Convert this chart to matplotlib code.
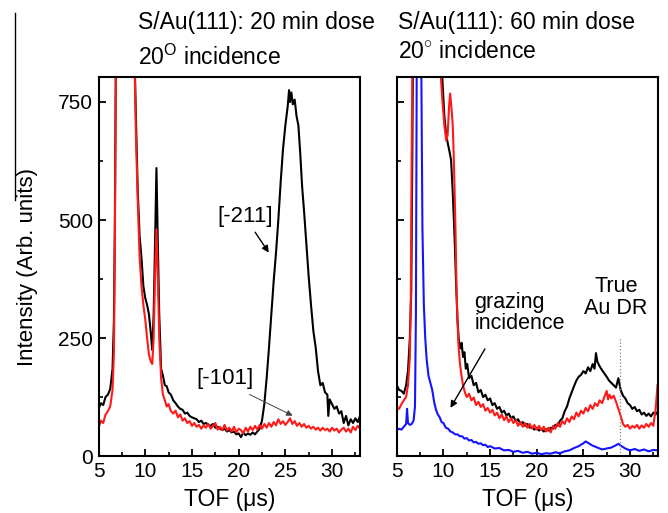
import matplotlib
matplotlib.use("Agg")
import matplotlib.pyplot as plt
from matplotlib.ticker import MultipleLocator
from matplotlib.lines import Line2D

plt.rcParams['font.family'] = ['Liberation Sans', 'DejaVu Sans']
plt.rcParams['mathtext.fontset'] = 'custom'
plt.rcParams['mathtext.rm'] = 'Liberation Sans'
plt.rcParams['mathtext.it'] = 'Liberation Sans:italic'
plt.rcParams['font.size'] = 15

# ---------------- data: left panel (20 min dose) ----------------
left_black_x = [5.0, 5.25, 5.5, 5.75, 6.0, 6.25, 6.5, 6.65, 6.75, 6.85, 7.0, 7.8, 8.5, 8.8,
                9.0, 9.2, 9.4, 9.6, 9.8, 10.0, 10.2, 10.4, 10.6, 10.75, 10.9, 11.05, 11.2, 11.35,
                11.5, 11.7, 11.9, 12.1, 12.3, 12.5, 12.75, 13.0, 13.25, 13.5, 13.75, 14.0, 14.25,
                14.5, 14.75, 15.0, 15.25, 15.5, 15.75, 16.0, 16.25, 16.5, 16.75, 17.0, 17.25, 17.5,
                17.75, 18.0, 18.25, 18.5, 18.75, 19.0, 19.25, 19.5, 19.75, 20.0, 20.25, 20.5, 20.75,
                21.0, 21.25, 21.5, 21.75, 22.0, 22.25, 22.5, 22.75, 23.0, 23.25, 23.5, 23.75, 24.0,
                24.25, 24.5, 24.75, 25.0, 25.25, 25.4, 25.5, 25.65, 25.8, 26.0, 26.2, 26.4, 26.6,
                26.8, 27.0, 27.25, 27.5, 27.75, 28.0, 28.25, 28.5, 28.75, 29.0, 29.25, 29.5, 29.6,
                29.75, 30.0, 30.25, 30.5, 30.75, 31.0, 31.25, 31.5, 31.75, 32.0, 32.25, 32.5, 32.75, 33.0]
left_black_y = [100, 112, 108, 125, 130, 142, 185, 290, 500, 820, 1800, 3000, 1800, 900,
                720, 560, 465, 420, 360, 335, 320, 300, 260, 225, 300, 450, 610, 450,
                300, 185, 170, 150, 148, 135, 130, 118, 112, 105, 100, 98, 90,
                92, 85, 82, 80, 78, 72, 75, 68, 70, 66, 64, 68, 60,
                62, 58, 55, 58, 52, 55, 50, 52, 46, 48, 40, 50, 44,
                48, 45, 50, 46, 52, 58, 75, 110, 165, 230, 300, 370, 430,
                500, 580, 650, 700, 740, 775, 750, 770, 745, 755, 720, 700, 640,
                570, 520, 450, 380, 320, 265, 230, 180, 150, 155, 135, 130, 85,
                120, 110, 100, 105, 90, 95, 70, 85, 65, 78, 70, 80, 72, 85]

left_red_x = [5.0, 5.25, 5.5, 5.75, 6.0, 6.25, 6.5, 6.65, 6.75, 6.85, 7.0, 7.8, 8.5, 8.8,
              9.0, 9.2, 9.4, 9.6, 9.8, 10.0, 10.2, 10.4, 10.6, 10.75, 10.9, 11.05, 11.2, 11.35,
              11.5, 11.7, 11.9, 12.1, 12.3, 12.5, 12.75, 13.0, 13.25, 13.5, 13.75, 14.0, 14.25,
              14.5, 14.75, 15.0, 15.25, 15.5, 15.75, 16.0, 16.25, 16.5, 16.75, 17.0, 17.25, 17.5,
              17.75, 18.0, 18.25, 18.5, 18.75, 19.0, 19.25, 19.5, 19.75, 20.0, 20.25, 20.5, 20.75,
              21.0, 21.25, 21.5, 21.75, 22.0, 22.25, 22.5, 22.75, 23.0, 23.25, 23.5, 23.75, 24.0,
              24.25, 24.5, 24.75, 25.0, 25.25, 25.5, 25.75, 26.0, 26.25, 26.5, 26.75, 27.0, 27.25,
              27.5, 27.75, 28.0, 28.25, 28.5, 28.75, 29.0, 29.25, 29.5, 29.75, 30.0, 30.25, 30.5,
              30.75, 31.0, 31.25, 31.5, 31.75, 32.0, 32.25, 32.5, 32.75, 33.0]
left_red_y = [60, 75, 70, 88, 95, 105, 140, 220, 450, 800, 1800, 3000, 1800, 900,
              680, 540, 420, 360, 320, 290, 250, 215, 200, 195, 250, 380, 480, 380,
              250, 165, 130, 118, 105, 110, 95, 90, 96, 82, 88, 75, 80,
              70, 74, 64, 70, 62, 66, 58, 65, 60, 68, 58, 64, 70,
              56, 62, 55, 66, 54, 60, 52, 62, 50, 58, 55, 48, 60,
              52, 62, 55, 64, 56, 66, 58, 68, 60, 70, 62, 72, 65,
              78, 68, 74, 66, 72, 80, 68, 74, 64, 70, 62, 68, 60,
              64, 58, 62, 56, 60, 54, 60, 55, 58, 52, 60, 54, 58,
              50, 56, 60, 52, 58, 50, 62, 55, 64, 58]

# ---------------- data: right panel (60 min dose) ----------------
right_black_x = [5.0, 5.25, 5.5, 5.75, 6.0, 6.2, 6.4, 6.55, 6.65, 6.75, 7.0, 8.5, 9.5, 9.88,
                 10.1, 10.3, 10.46, 10.65, 10.82, 11.0, 11.2, 11.35, 11.5, 11.65, 11.8, 11.95,
                 12.1, 12.25, 12.4, 12.55, 12.75, 13.0, 13.25, 13.5, 13.75, 14.0, 14.25, 14.5,
                 14.75, 15.0, 15.25, 15.5, 15.75, 16.0, 16.25, 16.5, 16.75, 17.0, 17.25, 17.5,
                 17.75, 18.0, 18.25, 18.5, 18.75, 19.0, 19.25, 19.5, 19.75, 20.0, 20.25, 20.5,
                 20.75, 21.0, 21.25, 21.5, 21.75, 22.0, 22.25, 22.5, 22.75, 23.0, 23.25, 23.5,
                 23.75, 24.0, 24.25, 24.5, 24.75, 25.0, 25.25, 25.5, 25.75, 26.0, 26.2, 26.35,
                 26.5, 26.75, 27.0, 27.25, 27.5, 27.75, 28.0, 28.25, 28.5, 28.75, 28.9, 29.0,
                 29.25, 29.5, 29.75, 30.0, 30.25, 30.5, 30.75, 31.0, 31.25, 31.5, 31.75, 32.0,
                 32.25, 32.5, 32.75, 33.0]
right_black_y = [150, 140, 138, 132, 150, 180, 250, 350, 600, 900, 2000, 3000, 1200, 800,
                 720, 680, 663, 645, 627, 557, 460, 370, 290, 245, 228, 240,
                 210, 220, 185, 195, 165, 170, 150, 155, 135, 140, 125, 130,
                 118, 122, 108, 112, 100, 104, 92, 96, 86, 90, 80, 84,
                 74, 78, 68, 72, 64, 68, 60, 62, 56, 60, 54, 58,
                 52, 57, 54, 60, 58, 66, 64, 75, 80, 95, 105, 122,
                 135, 148, 160, 168, 172, 180, 175, 188, 180, 195, 185, 218,
                 200, 190, 182, 175, 168, 160, 155, 150, 145, 165, 150, 140,
                 128, 122, 112, 108, 100, 104, 95, 98, 88, 92, 85, 90,
                 84, 92, 88, 95]

right_red_x = [5.0, 5.25, 5.5, 5.75, 6.0, 6.2, 6.4, 6.5, 6.6, 6.7, 6.9, 8.5, 9.5, 9.7,
               9.9, 10.1, 10.3, 10.45, 10.6, 10.72, 10.85, 11.0, 11.1, 11.2, 11.3, 11.4, 11.5,
               11.6, 11.75, 11.9, 12.1, 12.3, 12.5, 12.75, 13.0, 13.25, 13.5, 13.75, 14.0,
               14.25, 14.5, 14.75, 15.0, 15.25, 15.5, 15.75, 16.0, 16.25, 16.5, 16.75, 17.0,
               17.25, 17.5, 17.75, 18.0, 18.25, 18.5, 18.75, 19.0, 19.25, 19.5, 19.75, 20.0,
               20.25, 20.5, 20.75, 21.0, 21.25, 21.5, 21.75, 22.0, 22.25, 22.5, 22.75, 23.0,
               23.25, 23.5, 23.75, 24.0, 24.25, 24.5, 24.75, 25.0, 25.25, 25.5, 25.75, 26.0,
               26.25, 26.5, 26.75, 27.0, 27.25, 27.5, 27.65, 27.8, 28.0, 28.25, 28.5, 28.75,
               29.0, 29.25, 29.5, 29.75, 30.0, 30.25, 30.5, 30.75, 31.0, 31.25, 31.5, 31.75,
               32.0, 32.25, 32.5, 32.75, 32.95]
right_red_y = [105, 100, 110, 118, 125, 150, 210, 330, 650, 900, 2000, 3000, 1100, 810,
               750, 700, 668, 680, 740, 768, 740, 700, 640, 560, 470, 360, 290,
               240, 200, 175, 150, 135, 125, 132, 118, 124, 108, 115, 104,
               110, 96, 102, 92, 98, 86, 92, 80, 88, 76, 84, 72,
               80, 70, 76, 64, 72, 62, 70, 60, 68, 58, 66, 56,
               64, 55, 62, 52, 60, 50, 64, 58, 70, 62, 74, 68,
               80, 72, 84, 78, 92, 84, 96, 90, 102, 95, 108, 100,
               112, 106, 118, 112, 125, 138, 120, 130, 122, 128, 115, 100,
               85, 68, 62, 66, 58, 64, 60, 66, 58, 65, 60, 68,
               62, 70, 64, 100, 150]

right_blue_x = [5.0, 5.25, 5.5, 5.75, 6.0, 6.1, 6.2, 6.4, 6.6, 6.8, 6.95, 7.05, 7.15, 7.3,
                7.5, 7.6, 7.75, 7.9, 8.05, 8.2, 8.4, 8.6, 8.8, 9.0, 9.2, 9.4, 9.6, 9.8, 10.0,
                10.25, 10.5, 10.75, 11.0, 11.25, 11.5, 11.75, 12.0, 12.25, 12.5, 12.75, 13.0,
                13.25, 13.5, 13.75, 14.0, 14.25, 14.5, 14.75, 15.0, 15.5, 16.0, 16.5, 17.0,
                17.5, 18.0, 18.5, 19.0, 19.5, 20.0, 20.5, 21.0, 21.5, 22.0, 22.5, 23.0, 23.5,
                24.0, 24.5, 25.0, 25.25, 25.5, 25.75, 26.0, 26.5, 27.0, 27.5, 28.0, 28.5,
                28.75, 29.0, 29.5, 30.0, 30.5, 31.0, 31.5, 32.0, 32.5, 33.0]
right_blue_y = [55, 58, 56, 62, 68, 100, 70, 66, 68, 75, 105, 300, 900, 2000,
                1500, 900, 480, 320, 250, 205, 170, 155, 140, 115, 98, 88, 82, 72, 70,
                60, 58, 52, 50, 46, 46, 42, 42, 37, 38, 33, 34,
                29, 30, 26, 27, 23, 24, 19, 21, 16, 17, 12, 13,
                9, 11, 7, 9, 5, 7, 4, 6, 5, 8, 6, 10, 12,
                17, 21, 27, 31, 28, 25, 22, 18, 14, 16, 18, 23,
                26, 22, 16, 12, 15, 11, 14, 10, 13, 12]

x_ticks = [5, 10, 15, 20, 25, 30]
y_ticks = [0, 250, 500, 750]

# ---------------- figure ----------------
fig = plt.figure(figsize=(6.68, 5.13), dpi=100)
axL = fig.add_axes([0.1475, 0.111, 0.3915, 0.739])
axR = fig.add_axes([0.594, 0.111, 0.391, 0.739])

lw = 1.5
axL.plot(left_black_x, left_black_y, color='black', lw=lw)
axL.plot(left_red_x, left_red_y, color='#ff1a1a', lw=lw)
axR.plot(right_black_x, right_black_y, color='black', lw=lw)
axR.plot(right_red_x, right_red_y, color='#ff1a1a', lw=lw)
axR.plot(right_blue_x, right_blue_y, color='#1414ff', lw=lw)

for ax in (axL, axR):
    ax.set_xlim(5, 33)
    ax.set_ylim(0, 803)
    ax.set_xticks(x_ticks)
    ax.set_yticks(y_ticks)
    ax.xaxis.set_minor_locator(MultipleLocator(2.5))
    ax.yaxis.set_minor_locator(MultipleLocator(125))
    ax.tick_params(which='major', direction='in', length=5, width=1.3, labelsize=15, pad=4)
    ax.tick_params(which='minor', direction='in', length=3, width=1.2)
    for s in ax.spines.values():
        s.set_linewidth(1.5)
    ax.set_xlabel('TOF (μs)', fontsize=16.5, labelpad=5)

axR.tick_params(labelleft=False)
axL.set_ylabel('Intensity (Arb. units)', fontsize=16, labelpad=14)

# dotted marker line in right panel
axR.plot([28.9, 28.9], [0, 250], color='gray', lw=0.9, ls=':')

# annotations
axL.text(20.7, 508, '[-211]', ha='center', va='center', fontsize=16)
axL.annotate('', xy=(23.4, 426), xytext=(21.6, 479),
             arrowprops=dict(arrowstyle='-|>', color='black', lw=1.0, mutation_scale=10))
axL.text(18.55, 165, '[-101]', ha='center', va='center', fontsize=16)
axL.annotate('', xy=(26.05, 83), xytext=(20.9, 133),
             arrowprops=dict(arrowstyle='-|>', color='#444444', lw=0.7, mutation_scale=9))

axR.text(13.3, 303, 'grazing\nincidence', ha='left', va='center', fontsize=15.5, linespacing=1.05)
axR.annotate('', xy=(10.6, 97), xytext=(14.6, 232),
             arrowprops=dict(arrowstyle='-|>', color='black', lw=1.0, mutation_scale=10))
axR.text(28.5, 335, 'True\nAu DR', ha='center', va='center', fontsize=15.5, linespacing=1.05)

# titles
fig.text(138 / 668, 1 - 22 / 513, 'S/Au(111): 20 min dose', ha='left', va='center', fontsize=16.5)
fig.text(138 / 668, 1 - 57 / 513, r'20$^{\mathrm{O}}$ incidence', ha='left', va='center', fontsize=16.5)
fig.text(398 / 668, 1 - 22 / 513, 'S/Au(111): 60 min dose', ha='left', va='center', fontsize=16.5)
fig.text(398 / 668, 1 - 52 / 513, r'20$^{\circ}$ incidence', ha='left', va='center', fontsize=16.5)

# stray vertical line at top-left
fig.add_artist(Line2D([15 / 668, 15 / 668], [1 - 13 / 513, 1 - 200 / 513],
                      transform=fig.transFigure, color='black', lw=1.0))

fig.savefig('out.png', dpi=100)
